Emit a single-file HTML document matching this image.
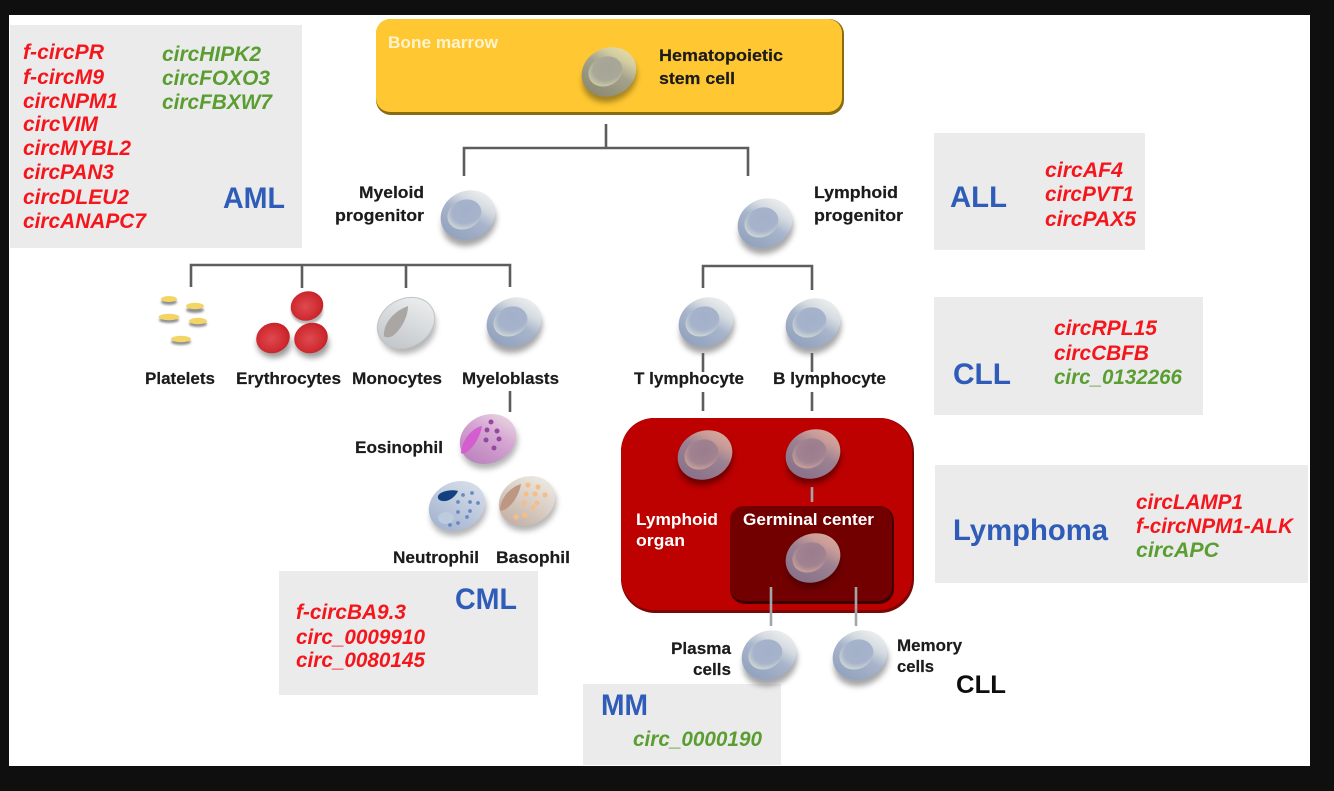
<!DOCTYPE html>
<html><head><meta charset="utf-8"><style>
html,body{margin:0;padding:0;background:#0f0f0f;width:1334px;height:791px;overflow:hidden}
svg{display:block}
text{font-family:"Liberation Sans",sans-serif;white-space:pre}
.k{font-weight:bold;font-size:17px;fill:#1a1a1a;stroke:#1a1a1a;stroke-width:.2}
.w{font-weight:bold;font-size:17px;fill:#fff}
.r{font-weight:bold;font-style:italic;font-size:21px;fill:#f5141e}
.g{font-weight:bold;font-style:italic;font-size:21px;fill:#5a9e32}
.b{font-size:30px;font-weight:bold;fill:#2f5cb8}
</style></head><body>
<svg width="1334" height="791" viewBox="0 0 1334 791" xmlns="http://www.w3.org/2000/svg">
<defs>
<filter id="s" x="-40%" y="-40%" width="180%" height="180%"><feGaussianBlur stdDeviation="3"/></filter>
<filter id="t" x="-5%" y="-20%" width="110%" height="140%"><feGaussianBlur stdDeviation="0.35"/></filter>
<filter id="v" x="-20%" y="-20%" width="140%" height="140%"><feGaussianBlur stdDeviation="1"/></filter>
<linearGradient id="blue" x1="0" y1=".8" x2="1" y2=".2"><stop offset="0" stop-color="#8f9fbc"/><stop offset=".5" stop-color="#a8b5cb"/><stop offset=".72" stop-color="#d5dbe1"/><stop offset="1" stop-color="#f3f4f2"/></linearGradient>
<radialGradient id="inB" cx=".6" cy=".42" r=".62"><stop offset="0" stop-color="#a3b0ca"/><stop offset=".68" stop-color="#a6b3cb"/><stop offset="1" stop-color="#ced6d4"/></radialGradient>
<linearGradient id="yel" x1="0" y1=".8" x2="1" y2=".2"><stop offset="0" stop-color="#8a8670"/><stop offset=".55" stop-color="#a5a38d"/><stop offset=".78" stop-color="#d3cda2"/><stop offset="1" stop-color="#e9dea2"/></linearGradient>
<radialGradient id="inY" cx=".6" cy=".42" r=".62"><stop offset="0" stop-color="#a5a595"/><stop offset=".68" stop-color="#a9a898"/><stop offset="1" stop-color="#cbc9a8"/></radialGradient>
<linearGradient id="mar" x1="0" y1=".8" x2="1" y2=".2"><stop offset="0" stop-color="#86708a"/><stop offset=".55" stop-color="#9c8292"/><stop offset=".78" stop-color="#c99c98"/><stop offset="1" stop-color="#d8ac9f"/></linearGradient>
<radialGradient id="inM" cx=".6" cy=".42" r=".62"><stop offset="0" stop-color="#9a7c8e"/><stop offset=".68" stop-color="#a18290"/><stop offset="1" stop-color="#c9a09a"/></radialGradient>
<radialGradient id="redc" cx=".45" cy=".5" r=".62"><stop offset="0" stop-color="#dd4a50"/><stop offset=".7" stop-color="#cf2a30"/><stop offset="1" stop-color="#b81c22"/></radialGradient>
<linearGradient id="gry" x1="0" y1=".8" x2="1" y2=".2"><stop offset="0" stop-color="#bfc4c8"/><stop offset="1" stop-color="#eef0f0"/></linearGradient>
<linearGradient id="pur" x1="0" y1=".8" x2="1" y2=".2"><stop offset="0" stop-color="#b981bb"/><stop offset=".6" stop-color="#d6a6d3"/><stop offset="1" stop-color="#ead8e2"/></linearGradient>
<linearGradient id="neu" x1="0" y1=".8" x2="1" y2=".2"><stop offset="0" stop-color="#a2b1d0"/><stop offset="1" stop-color="#d8e0ea"/></linearGradient>
<linearGradient id="bas" x1="0" y1=".8" x2="1" y2=".2"><stop offset="0" stop-color="#c2ada2"/><stop offset="1" stop-color="#eeede6"/></linearGradient>
<g id="cb"><ellipse cx="-2" cy="7" rx="28" ry="23" fill="#6a6a70" opacity=".6" filter="url(#s)"/><ellipse rx="28" ry="24" fill="url(#blue)"/><ellipse cx="-3" cy="-2" rx="17.500" ry="14.500" fill="url(#inB)"/></g>
<g id="cm"><ellipse cx="-2" cy="6" rx="28" ry="23" fill="#400" opacity=".65" filter="url(#s)"/><ellipse rx="28" ry="24" fill="url(#mar)"/><ellipse cx="-3" cy="-2" rx="17.500" ry="14.500" fill="url(#inM)"/></g>
</defs>

<rect x="0" y="0" width="1334" height="791" fill="#0f0f0f"/>
<rect x="9" y="15" width="1301" height="751" fill="#fff"/>

<g fill="#ebebeb">
<rect x="10" y="25" width="292" height="223"/>
<rect x="934" y="133" width="211" height="117"/>
<rect x="934" y="297" width="269" height="118"/>
<rect x="935" y="465" width="373" height="118"/>
<rect x="279" y="571" width="259" height="124"/>
<rect x="583" y="684" width="198" height="81"/>
</g>

<rect x="376" y="19" width="468" height="96" rx="15" fill="#8a6c10"/>
<rect x="376" y="19" width="466" height="93" rx="14" fill="#ffc832"/>

<g fill="none" stroke="#5d5d5d" stroke-width="2.6">
<path d="M606 124V148M464 176V148H748V176"/>
<path d="M191 287V265H510V287M302 265V288M406 265V288"/>
<path d="M703 288V266H812V290"/>
<path d="M510 391V412"/>
<path d="M703 353V372M703 392V411M812 353V372M812 392V411"/>
</g>

<rect x="621" y="418" width="293" height="195" rx="34" fill="#7c0606"/>
<rect x="621" y="418" width="291" height="192" rx="33" fill="#bd0000"/>
<rect x="730" y="506" width="164" height="98" rx="15" fill="#3d0000"/>
<rect x="730" y="506" width="162" height="95" rx="14" fill="#720000"/>
<g fill="none" stroke="#a3a6a8" stroke-width="2.6">
<path d="M812 487V502"/>
<path d="M771 587V626M856 587V626"/>
</g>

<g transform="translate(609 72) rotate(-25)"><ellipse cx="-2" cy="6" rx="28" ry="23" fill="#5a4a10" opacity=".55" filter="url(#s)"/><ellipse rx="28" ry="24" fill="url(#yel)"/><ellipse cx="-3" cy="-2" rx="17.500" ry="14.500" fill="url(#inY)"/></g>
<use href="#cb" transform="translate(468 215) rotate(-25)"/>
<use href="#cb" transform="translate(765 223) rotate(-25)"/>
<use href="#cb" transform="translate(514 322) rotate(-25)"/>
<use href="#cb" transform="translate(706 322) rotate(-25)"/>
<use href="#cb" transform="translate(813 323) rotate(-25)"/>
<use href="#cb" transform="translate(769 655) rotate(-25)"/>
<use href="#cb" transform="translate(860 655) rotate(-25)"/>
<use href="#cm" transform="translate(705 455) rotate(-25)"/>
<use href="#cm" transform="translate(813 454) rotate(-25)"/>
<use href="#cm" transform="translate(813 558) rotate(-25)"/>

<g>
<g fill="#8f8f8f" filter="url(#v)"><ellipse cx="169" cy="302" rx="8" ry="3"/><ellipse cx="195" cy="310" rx="9" ry="3"/><ellipse cx="169" cy="320" rx="10" ry="3"/><ellipse cx="198" cy="324" rx="9" ry="3"/><ellipse cx="181" cy="342" rx="10" ry="3"/></g>
<g fill="#f3d566"><ellipse cx="169" cy="299" rx="8" ry="3"/><ellipse cx="195" cy="306" rx="9" ry="3.2"/><ellipse cx="169" cy="317" rx="10.5" ry="3.2"/><ellipse cx="198" cy="321" rx="9" ry="3.2"/><ellipse cx="181" cy="339" rx="10" ry="3.2"/></g>
</g>

<g>
<ellipse cx="307" cy="311" rx="16" ry="13" fill="#777" opacity=".55" filter="url(#v)"/>
<ellipse cx="274" cy="344" rx="17" ry="14" fill="#666" opacity=".65" filter="url(#s)"/>
<ellipse cx="312" cy="344" rx="17" ry="14" fill="#666" opacity=".65" filter="url(#s)"/>
<ellipse cx="307" cy="306" rx="16.500" ry="14.500" fill="url(#redc)" transform="rotate(-20 307 306)"/>
<ellipse cx="273" cy="338" rx="17" ry="15" fill="url(#redc)" transform="rotate(-20 273 338)"/>
<ellipse cx="311" cy="338" rx="17" ry="15" fill="url(#redc)" transform="rotate(-20 311 338)"/>
</g>

<g transform="translate(406 323) rotate(-30)">
<ellipse cx="-1" cy="6" rx="29" ry="24" fill="#777" opacity=".55" filter="url(#s)"/>
<ellipse rx="30" ry="24" fill="url(#gry)" stroke="#bfc4c6" stroke-width="1"/>
</g>
<path d="M384 336C383 325 392 312 408 306C408 316 402 328 394 335C390 338 385 338 384 336Z" fill="#aaa6a4"/>

<g transform="translate(488 439) rotate(-25)"><ellipse cx="-1" cy="6" rx="29" ry="23" fill="#777" opacity=".55" filter="url(#s)"/><ellipse rx="29" ry="24" fill="url(#pur)"/></g>
<path d="M461 452C462 440 472 428 482 426C480 438 472 450 465 453C462 454 461 454 461 452Z" fill="#d45ed0"/>
<g fill="#93489e"><circle cx="491" cy="422" r="2.500"/><circle cx="487" cy="430" r="2.500"/><circle cx="497" cy="431" r="2.500"/><circle cx="486" cy="440" r="2.500"/><circle cx="499" cy="439" r="2.500"/><circle cx="494" cy="448" r="2.500"/></g>

<g transform="translate(457 506) rotate(-25)"><ellipse cx="-1" cy="6" rx="29" ry="23" fill="#777" opacity=".55" filter="url(#s)"/><ellipse rx="29" ry="24" fill="url(#neu)"/></g>
<ellipse cx="446" cy="518" rx="8" ry="6" fill="#bccbdd"/>
<path d="M438 496C440 491 452 489 458 491C456 496 449 502 443 501C440 501 437 499 438 496Z" fill="#13407f"/>
<g fill="#6a8abf"><circle cx="472" cy="493" r="1.900"/><circle cx="463" cy="495" r="1.900"/><circle cx="458" cy="502" r="1.900"/><circle cx="470" cy="502" r="1.900"/><circle cx="478" cy="503" r="1.900"/><circle cx="458" cy="512" r="1.900"/><circle cx="470" cy="511" r="1.900"/><circle cx="467" cy="517" r="1.900"/><circle cx="458" cy="523" r="1.900"/><circle cx="450" cy="525" r="1.900"/></g>

<g transform="translate(527 501) rotate(-25)"><ellipse cx="-1" cy="6" rx="29" ry="23" fill="#777" opacity=".55" filter="url(#s)"/><ellipse rx="29" ry="24" fill="url(#bas)"/></g>
<path d="M500 509C501 497 511 487 521 484C519 496 511 507 504 510C501 511 500 511 500 509Z" fill="#bd9783"/>
<g fill="#f5bd8a"><circle cx="528" cy="485" r="2.600"/><circle cx="538" cy="487" r="2.600"/><circle cx="526" cy="494" r="2.600"/><circle cx="535" cy="494" r="2.600"/><circle cx="545" cy="495" r="2.600"/><circle cx="524" cy="503" r="2.600"/><circle cx="537" cy="503" r="2.600"/><circle cx="533" cy="508" r="2.600"/><circle cx="525" cy="515" r="2.600"/><circle cx="516" cy="517" r="2.600"/></g>

<g filter="url(#t)">
<g lengthAdjust="spacingAndGlyphs">
<text x="388" y="48" class="w" style="fill:#fff3cf" textLength="110" lengthAdjust="spacingAndGlyphs">Bone marrow</text>
<text x="659" y="61" class="k" textLength="124" lengthAdjust="spacingAndGlyphs">Hematopoietic</text>
<text x="659" y="84" class="k" textLength="76" lengthAdjust="spacingAndGlyphs">stem cell</text>
<text x="359" y="198" class="k" textLength="65" lengthAdjust="spacingAndGlyphs">Myeloid</text>
<text x="335" y="221" class="k" textLength="89" lengthAdjust="spacingAndGlyphs">progenitor</text>
<text x="814" y="198" class="k" textLength="84" lengthAdjust="spacingAndGlyphs">Lymphoid</text>
<text x="814" y="221" class="k" textLength="89" lengthAdjust="spacingAndGlyphs">progenitor</text>
<text x="145" y="384" class="k" textLength="70" lengthAdjust="spacingAndGlyphs">Platelets</text>
<text x="236" y="384" class="k" textLength="105" lengthAdjust="spacingAndGlyphs">Erythrocytes</text>
<text x="352" y="384" class="k" textLength="90" lengthAdjust="spacingAndGlyphs">Monocytes</text>
<text x="462" y="384" class="k" textLength="97" lengthAdjust="spacingAndGlyphs">Myeloblasts</text>
<text x="634" y="384" class="k" textLength="110" lengthAdjust="spacingAndGlyphs">T lymphocyte</text>
<text x="773" y="384" class="k" textLength="113" lengthAdjust="spacingAndGlyphs">B lymphocyte</text>
<text x="355" y="453" class="k" textLength="88" lengthAdjust="spacingAndGlyphs">Eosinophil</text>
<text x="393" y="563" class="k" textLength="86" lengthAdjust="spacingAndGlyphs">Neutrophil</text>
<text x="496" y="563" class="k" textLength="74" lengthAdjust="spacingAndGlyphs">Basophil</text>
<text x="636" y="525" class="w" textLength="82" lengthAdjust="spacingAndGlyphs">Lymphoid</text>
<text x="636" y="546" class="w" textLength="49" lengthAdjust="spacingAndGlyphs">organ</text>
<text x="743" y="525" class="w" textLength="131" lengthAdjust="spacingAndGlyphs">Germinal center</text>
<text x="671" y="654" class="k" textLength="60" lengthAdjust="spacingAndGlyphs">Plasma</text>
<text x="693" y="675" class="k" textLength="38" lengthAdjust="spacingAndGlyphs">cells</text>
<text x="897" y="651" class="k" textLength="65" lengthAdjust="spacingAndGlyphs">Memory</text>
<text x="897" y="672" class="k" textLength="37" lengthAdjust="spacingAndGlyphs">cells</text>

<text x="23" y="59" class="r" textLength="81" lengthAdjust="spacingAndGlyphs">f-circPR</text>
<text x="23" y="84" class="r" textLength="81" lengthAdjust="spacingAndGlyphs">f-circM9</text>
<text x="23" y="108" class="r" textLength="95" lengthAdjust="spacingAndGlyphs">circNPM1</text>
<text x="23" y="131" class="r" textLength="75" lengthAdjust="spacingAndGlyphs">circVIM</text>
<text x="23" y="155" class="r" textLength="108" lengthAdjust="spacingAndGlyphs">circMYBL2</text>
<text x="23" y="179" class="r" textLength="91" lengthAdjust="spacingAndGlyphs">circPAN3</text>
<text x="23" y="204" class="r" textLength="106" lengthAdjust="spacingAndGlyphs">circDLEU2</text>
<text x="23" y="228" class="r" textLength="123" lengthAdjust="spacingAndGlyphs">circANAPC7</text>
<text x="162" y="61" class="g" textLength="99" lengthAdjust="spacingAndGlyphs">circHIPK2</text>
<text x="162" y="85" class="g" textLength="108" lengthAdjust="spacingAndGlyphs">circFOXO3</text>
<text x="162" y="109" class="g" textLength="110" lengthAdjust="spacingAndGlyphs">circFBXW7</text>
<text x="223" y="208" class="b" textLength="62" lengthAdjust="spacingAndGlyphs">AML</text>

<text x="950" y="207" class="b" textLength="57" lengthAdjust="spacingAndGlyphs">ALL</text>
<text x="1045" y="177" class="r" textLength="78" lengthAdjust="spacingAndGlyphs">circAF4</text>
<text x="1045" y="201" class="r" textLength="89" lengthAdjust="spacingAndGlyphs">circPVT1</text>
<text x="1045" y="226" class="r" textLength="91" lengthAdjust="spacingAndGlyphs">circPAX5</text>

<text x="953" y="384" class="b" textLength="58" lengthAdjust="spacingAndGlyphs">CLL</text>
<text x="1054" y="335" class="r" textLength="103" lengthAdjust="spacingAndGlyphs">circRPL15</text>
<text x="1054" y="360" class="r" textLength="95" lengthAdjust="spacingAndGlyphs">circCBFB</text>
<text x="1054" y="384" class="g" textLength="128" lengthAdjust="spacingAndGlyphs">circ_0132266</text>

<text x="953" y="540" class="b" textLength="155" lengthAdjust="spacingAndGlyphs">Lymphoma</text>
<text x="1136" y="509" class="r" textLength="107" lengthAdjust="spacingAndGlyphs">circLAMP1</text>
<text x="1136" y="533" class="r" textLength="157" lengthAdjust="spacingAndGlyphs">f-circNPM1-ALK</text>
<text x="1136" y="557" class="g" textLength="83" lengthAdjust="spacingAndGlyphs">circAPC</text>

<text x="455" y="609" class="b" textLength="62" lengthAdjust="spacingAndGlyphs">CML</text>
<text x="296" y="619" class="r" textLength="110" lengthAdjust="spacingAndGlyphs">f-circBA9.3</text>
<text x="296" y="644" class="r" textLength="129" lengthAdjust="spacingAndGlyphs">circ_0009910</text>
<text x="296" y="667" class="r" textLength="129" lengthAdjust="spacingAndGlyphs">circ_0080145</text>

<text x="601" y="715" class="b" textLength="47" lengthAdjust="spacingAndGlyphs">MM</text>
<text x="633" y="746" class="g" textLength="129" lengthAdjust="spacingAndGlyphs">circ_0000190</text>

<text x="956" y="693" font-size="25" font-weight="bold" fill="#111" textLength="50" lengthAdjust="spacingAndGlyphs">CLL</text>
</g>
</g>
</svg>
</body></html>
